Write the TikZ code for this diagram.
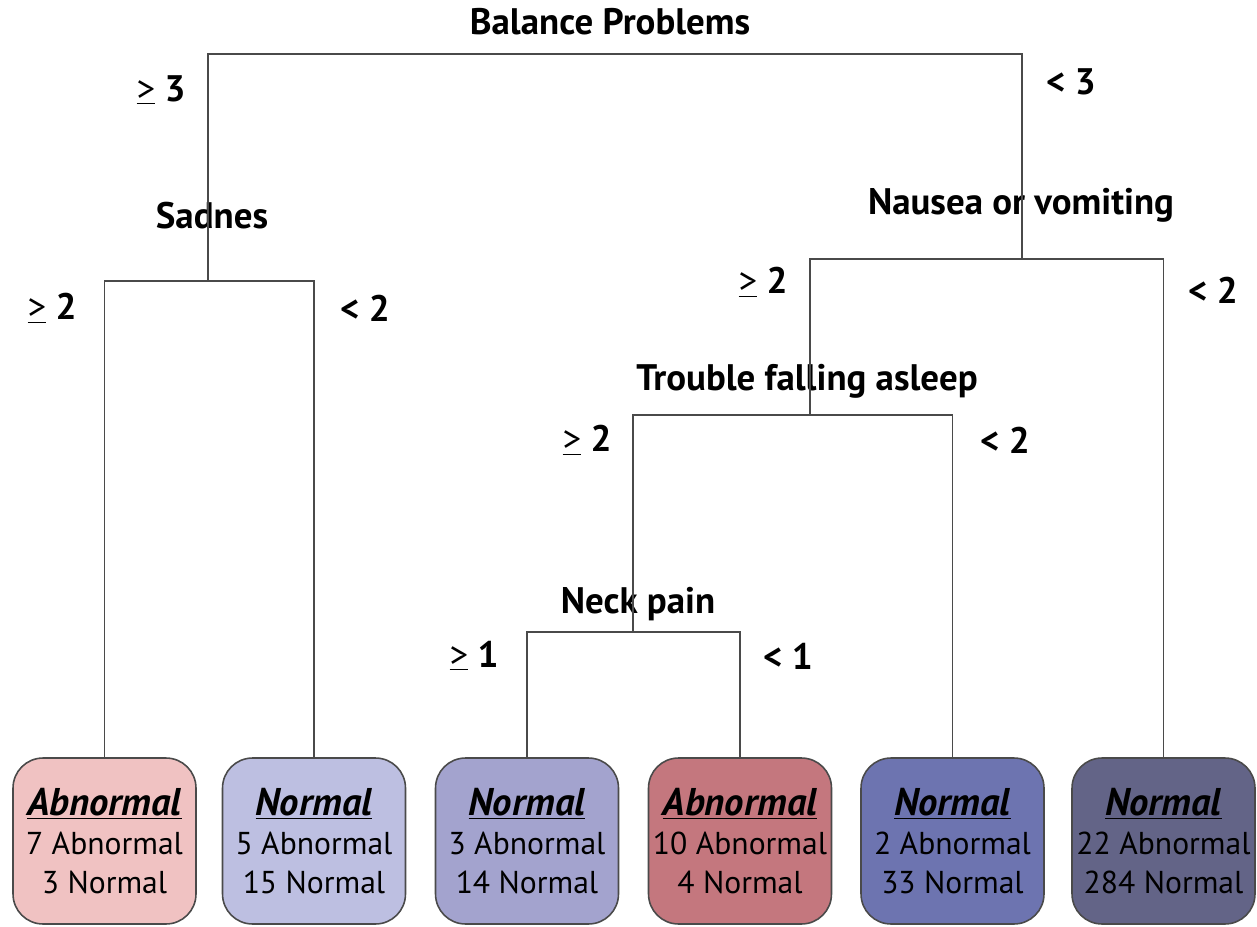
\documentclass[tikz,border=0pt]{standalone}
\usepackage{fontspec}
\setmainfont{PT Sans}
\usepackage{tikz}
\usetikzlibrary{positioning}

\definecolor{leafA}{HTML}{F0C2C2}
\definecolor{leafB}{HTML}{BDBFE1}
\definecolor{leafC}{HTML}{A3A3CE}
\definecolor{leafD}{HTML}{C4777E}
\definecolor{leafE}{HTML}{6D74B0}
\definecolor{leafF}{HTML}{636487}
\definecolor{edgegray}{HTML}{4A4A4A}

\newcommand{\geul}{\underline{\mdseries>}}
\newcommand{\verdict}[1]{{\fontsize{22}{22}\selectfont\underline{\textbf{\textit{#1}}}}}

\begin{document}
\begin{tikzpicture}[
    x=0.02cm, y=-0.02cm,
    every node/.style={font=\fontsize{21}{24}\selectfont\bfseries},
    split/.style={inner sep=0pt},
    cut/.style={inner sep=0pt},
    leaf/.style={
        rectangle, rounded corners=0.6cm,
        minimum width=3.66cm,
        minimum height=3.32cm,
        draw=edgegray, line width=0.9pt,
        align=center, inner sep=0pt,
        font=\fontsize{18}{22}\selectfont
    },
    edge/.style={draw=edgegray, line width=1.1pt},
]
\useasboundingbox (0,0) rectangle (1257,926);

% Nodes
\node (balance_lbl) [split] at (610,22) {Balance Problems};
\node (sadnes_lbl)  [split] at (212,216) {Sadnes};
\node (nausea_lbl)  [split] at (1021,205) {Nausea or vomiting};
\node (trouble_lbl) [split] at (807,381) {Trouble falling asleep};
\node (neck_lbl)    [split] at (638,604) {Neck pain};

\coordinate (balance) at (615,54);
\coordinate (sadnes)  at (208,281);
\coordinate (nausea)  at (1022,259);
\coordinate (trouble) at (810,415);
\coordinate (neck)    at (633,632);

\node (leaf1) [leaf, fill=leafA] at (104.5,841) {\verdict{Abnormal}\\7 Abnormal\\3 Normal};
\node (leaf2) [leaf, fill=leafB] at (314,841) {\verdict{Normal}\\5 Abnormal\\15 Normal};
\node (leaf3) [leaf, fill=leafC] at (527,841) {\verdict{Normal}\\3 Abnormal\\14 Normal};
\node (leaf4) [leaf, fill=leafD] at (740,841) {\verdict{Abnormal}\\10 Abnormal\\4 Normal};
\node (leaf5) [leaf, fill=leafE] at (952.5,841) {\verdict{Normal}\\2 Abnormal\\33 Normal};
\node (leaf6) [leaf, fill=leafF] at (1163.5,841) {\verdict{Normal}\\22 Abnormal\\284 Normal};

% Thresholds
\node (bal_ge)  [cut] at (161,90)  {\geul{} 3};
\node (bal_lt)  [cut] at (1071,82) {< 3};
\node (sad_ge)  [cut] at (52,308)  {\geul{} 2};
\node (sad_lt)  [cut] at (365,308) {< 2};
\node (nau_ge)  [cut] at (763,282) {\geul{} 2};
\node (nau_lt)  [cut] at (1213,290) {< 2};
\node (tro_ge)  [cut] at (587,440) {\geul{} 2};
\node (tro_lt)  [cut] at (1005,440) {< 2};
\node (neck_ge) [cut] at (474,656) {\geul{} 1};
\node (neck_lt) [cut] at (788,656) {< 1};

% Lines
\draw [edge] (balance) -| (sadnes);
\draw [edge] (balance) -| (nausea);

\draw [edge] (sadnes) -| (leaf1.north);
\draw [edge] (sadnes) -| (leaf2.north);

\draw [edge] (nausea) -| (trouble);
\draw [edge] (nausea) -| (leaf6.north);

\draw [edge] (trouble) -| (neck);
\draw [edge] (trouble) -| (leaf5.north);

\draw [edge] (neck) -| (leaf3.north);
\draw [edge] (neck) -| (leaf4.north);

\end{tikzpicture}
\end{document}
